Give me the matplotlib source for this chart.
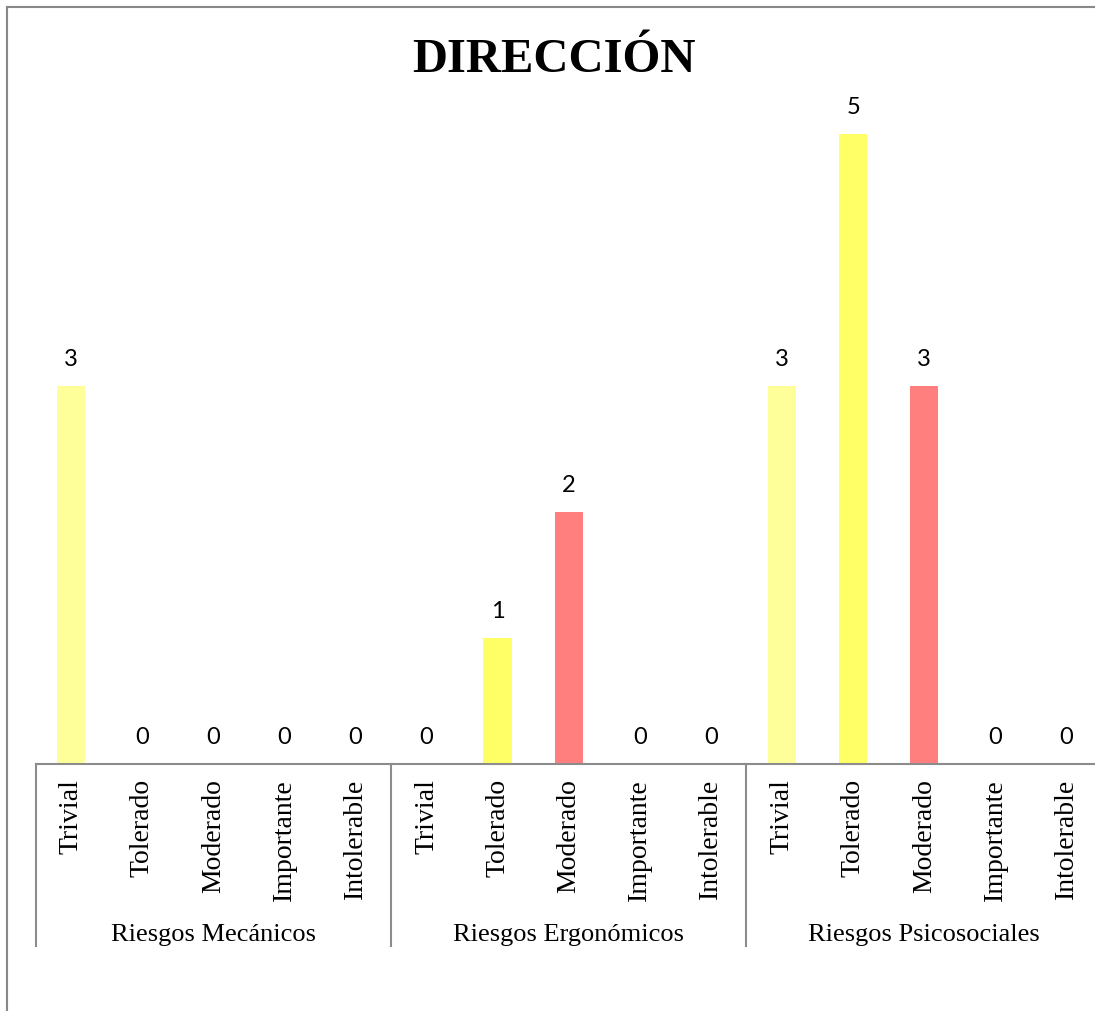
import numpy as np
import matplotlib.pyplot as plt
from matplotlib.lines import Line2D
import matplotlib.transforms as mtransforms

# data
groups = ['Riesgos Mecánicos', 'Riesgos Ergonómicos', 'Riesgos Psicosociales']
levels = ['Trivial', 'Tolerado', 'Moderado', 'Importante', 'Intolerable']
mecanicos = [3, 0, 0, 0, 0]
ergonomicos = [0, 1, 2, 0, 0]
psicosociales = [3, 5, 3, 0, 0]
level_colors = ['#FFFF99', '#FFFF66', '#FF7F7F', '#FF7F7F', '#FF7F7F']

values = mecanicos + ergonomicos + psicosociales
labels = levels * len(groups)
colors = level_colors * len(groups)
x = np.arange(len(values))

W, H = 1095, 1012
fig = plt.figure(figsize=(W / 100, H / 100), dpi=100)

# axes placed in pixel terms (right edge runs a bit past the image)
left, right, base, top = 35.5, 1102, 765, 9
ax = fig.add_axes([left / W, (H - base) / H, (right - left) / W, (base - top) / H])

ax.bar(x, values, width=0.4, color=colors)
ax.set_xlim(-0.5, len(values) - 0.5)
ax.set_ylim(0, 6)

for xi, v in zip(x, values):
    ax.annotate(str(v), (xi, v), xytext=(0, 12), textcoords='offset points',
                ha='center', va='bottom', fontsize=17, family='Lato')

for s in ['top', 'right', 'left']:
    ax.spines[s].set_visible(False)
ax.spines['bottom'].set_color('#8c8c8c')
ax.spines['bottom'].set_linewidth(1.5)
ax.set_yticks([])
ax.set_xticks(x)
ax.set_xticklabels(labels, rotation=90, fontsize=20, family='Liberation Serif', va='top')
ax.tick_params(axis='x', length=0, pad=10)

# group separators and group labels
trans = mtransforms.blended_transform_factory(ax.transData, ax.transAxes)
n = len(levels)
for g in range(len(groups)):
    xs = g * n - 0.5
    ax.plot([xs, xs], [0, -0.241], transform=trans, color='#8c8c8c', lw=1.5, clip_on=False)
for g, name in enumerate(groups):
    ax.text(g * n + (n - 1) / 2, -0.225, name, transform=trans, ha='center', va='center',
            fontsize=19, family='Liberation Serif')

# title
fig.text(554 / W, 1 - 60 / H, 'DIRECCIÓN', ha='center', va='center', fontsize=35,
         fontweight='bold', family='Liberation Serif')

# outer frame (top and left only)
fig.add_artist(Line2D([7 / W, 1], [1 - 8 / H, 1 - 8 / H], transform=fig.transFigure, color='#888888', lw=1.5))
fig.add_artist(Line2D([7 / W, 7 / W], [0, 1 - 8 / H], transform=fig.transFigure, color='#888888', lw=1.5))

fig.savefig('out.png', dpi=100)
